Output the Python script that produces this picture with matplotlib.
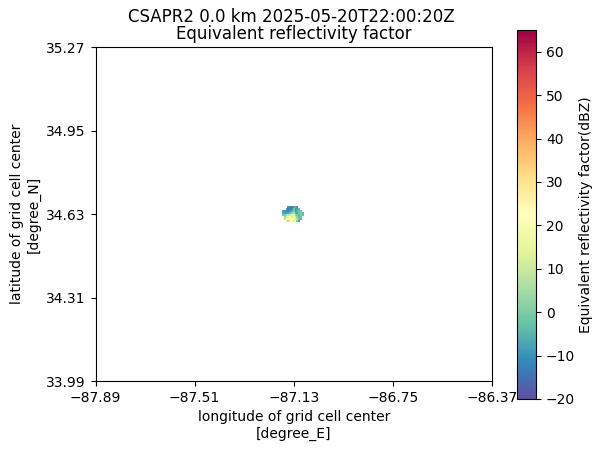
import numpy as np
import matplotlib
matplotlib.use("Agg")
import matplotlib.pyplot as plt

title = "CSAPR2 0.0 km 2025-05-20T22:00:20Z \nEquivalent reflectivity factor"
xlabel = "longitude of grid cell center\n[degree_E]"
ylabel = "latitude of grid cell center\n[degree_N]"
cbar_label = "Equivalent reflectivity factor(dBZ)"
lon_ticks = [-87.89, -87.51, -87.13, -86.75, -86.37]
lat_ticks = [33.99, 34.31, 34.63, 34.95, 35.27]
N = np.nan
reflectivity = [
    [N, N, N, -9, -13, -12, -8, -5, -9, N, N, N],
    [N, N, -8, -12, -13, -11, -3, -10, -8, -4, N, N],
    [-8, -9, -11, -12, -9, -6, 0, -11, -6, -2, -1, N],
    [-6, -9, -8, -7, -3, 2, 6, -6, -7, -3, 0, -3],
    [-1, 1, 5, 8, 10, 14, 16, 3, -2, -4, 0, -4],
    [N, 4, 8, 16, 20, 12, 17, 10, 2, -4, -1, N],
    [N, 8, 20, 25, 18, 22, 19, 12, 7, -2, -5, N],
    [N, N, 21, 38, 22, 24, 15, N, 2, -8, N, N],
]
lat_edges = np.linspace(34.661, 34.599, len(reflectivity) + 1)
lon_edges = np.linspace(-87.175, -87.092, len(reflectivity[0]) + 1)

fig = plt.figure(figsize=(6.04, 4.51), dpi=100)
ax = fig.add_axes([95.5 / 604, 1 - 381.2 / 451, 396.5 / 604, 334 / 451])
mesh = ax.pcolormesh(lon_edges, lat_edges, np.ma.masked_invalid(reflectivity),
                     cmap="Spectral_r", vmin=-20, vmax=65)
ax.set_xlim(lon_ticks[0], lon_ticks[-1])
ax.set_ylim(lat_ticks[0], lat_ticks[-1])
ax.set_xticks(lon_ticks)
ax.set_yticks(lat_ticks)
ax.set_xticklabels([f"{v:.2f}".replace("-", "\u2212") for v in lon_ticks])
ax.set_yticklabels([f"{v:.2f}" for v in lat_ticks])
ax.set_xlabel(xlabel)
ax.set_ylabel(ylabel)
ax.set_title(title, fontsize=12, linespacing=0.93)
cax = fig.add_axes([517.3 / 604, 1 - 399 / 451, 19 / 604, 369 / 451])
cb = fig.colorbar(mesh, cax=cax)
cb.set_label(cbar_label, labelpad=3)
fig.savefig("out.png", dpi=100)
